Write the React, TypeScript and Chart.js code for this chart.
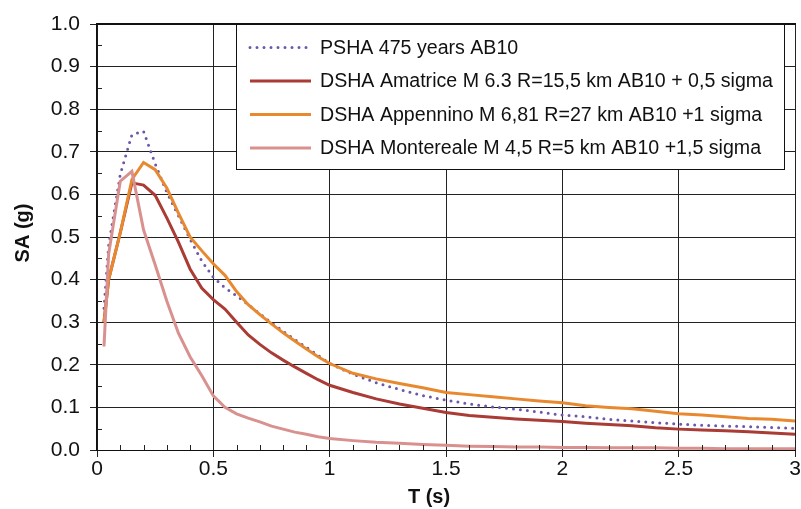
import React, { useEffect, useRef } from "react";
import { Chart, registerables } from "chart.js";

Chart.register(...registerables);

// ---- data ----
const periods = [
  0.03, 0.05, 0.1, 0.15, 0.2, 0.25, 0.3, 0.35, 0.4, 0.45, 0.5, 0.55, 0.6, 0.65, 0.7, 0.75, 0.8, 0.85, 0.9, 0.95, 1.0,
  1.1, 1.2, 1.3, 1.4, 1.5, 1.6, 1.7, 1.8, 1.9, 2.0, 2.1, 2.2, 2.3, 2.4, 2.5, 2.6, 2.7, 2.8, 2.9, 3.0,
];

const psha475 = [
  0.333, 0.48, 0.647, 0.74, 0.748, 0.672, 0.605, 0.55, 0.495, 0.444, 0.405, 0.381, 0.362, 0.341, 0.32, 0.298, 0.279,
  0.259, 0.241, 0.222, 0.203, 0.178, 0.158, 0.142, 0.128, 0.117, 0.108, 0.101, 0.096, 0.089, 0.082, 0.078, 0.072,
  0.068, 0.064, 0.061, 0.058, 0.056, 0.055, 0.053, 0.051,
];

const amatrice = [
  0.3, 0.4, 0.51, 0.627, 0.622, 0.598, 0.545, 0.488, 0.425, 0.38, 0.353, 0.331, 0.3, 0.27, 0.248, 0.228, 0.211,
  0.195, 0.18, 0.165, 0.152, 0.135, 0.12, 0.108, 0.098, 0.088, 0.081, 0.077, 0.073, 0.07, 0.067, 0.063, 0.06, 0.057,
  0.052, 0.049, 0.047, 0.045, 0.043, 0.04, 0.037,
];

const appennino = [
  0.3, 0.4, 0.51, 0.635, 0.675, 0.658, 0.615, 0.556, 0.5, 0.468, 0.437, 0.41, 0.372, 0.341, 0.318, 0.296, 0.275,
  0.256, 0.237, 0.219, 0.203, 0.18, 0.167, 0.156, 0.146, 0.135, 0.13, 0.125, 0.12, 0.115, 0.111, 0.104, 0.1, 0.097,
  0.091, 0.085, 0.082, 0.078, 0.074, 0.072, 0.068,
];

const montereale = [
  0.243, 0.46, 0.631, 0.654, 0.517, 0.435, 0.35, 0.274, 0.219, 0.175, 0.127, 0.1, 0.085, 0.075, 0.066, 0.056, 0.049,
  0.042, 0.037, 0.031, 0.027, 0.022, 0.018, 0.016, 0.013, 0.011, 0.009, 0.008, 0.007, 0.007, 0.006, 0.006, 0.005,
  0.005, 0.005, 0.004, 0.004, 0.003, 0.003, 0.003, 0.003,
];

const seriesLabels = [
  "PSHA 475 years AB10",
  "DSHA Amatrice M 6.3 R=15,5 km AB10 + 0,5 sigma",
  "DSHA Appennino M 6,81 R=27 km AB10 +1 sigma",
  "DSHA Montereale M 4,5 R=5 km AB10 +1,5 sigma",
];

const xAxisTitle = "T (s)";
const yAxisTitle = "SA (g)";

const FONT = "'Liberation Sans', Arial, sans-serif";

const toPoints = (ys: number[]) => periods.map((x, i) => ({ x, y: ys[i] }));

const decorPlugin = {
  id: "decor",
  afterDraw(chart: any) {
    const { ctx, chartArea, scales } = chart;
    const xs = scales.x;
    const ys = scales.y;
    ctx.save();
    // minor ticks (inside)
    ctx.strokeStyle = "#222";
    ctx.lineWidth = 1;
    ctx.beginPath();
    for (let i = 1; i < 20; i += 2) {
      const y = Math.round(ys.getPixelForValue(i * 0.05)) + 0.5;
      ctx.moveTo(chartArea.left, y);
      ctx.lineTo(chartArea.left + 5, y);
    }
    for (let i = 1; i < 30; i++) {
      if (i % 5 === 0) continue;
      const x = Math.round(xs.getPixelForValue(i * 0.1)) + 0.5;
      ctx.moveTo(x, chartArea.bottom);
      ctx.lineTo(x, chartArea.bottom - 5);
    }
    ctx.stroke();
    // top border thicker
    ctx.strokeStyle = "#111";
    ctx.lineWidth = 2;
    ctx.beginPath();
    ctx.moveTo(chartArea.left, chartArea.top);
    ctx.lineTo(chartArea.right + 1, chartArea.top);
    ctx.stroke();

    // legend box
    const bx = 236, by = chartArea.top, bw = 548, bh = 145;
    ctx.fillStyle = "#fff";
    ctx.fillRect(bx, by, bw, bh);
    ctx.strokeStyle = "#111";
    ctx.lineWidth = 1;
    ctx.strokeRect(bx + 0.5, by + 0.5, bw, bh);
    const rows = [47.5, 81, 114.5, 148];
    chart.data.datasets.forEach((ds: any, i: number) => {
      const y = rows[i];
      ctx.save();
      ctx.strokeStyle = ds.borderColor;
      ctx.lineWidth = ds.borderWidth;
      ctx.lineCap = ds.borderCapStyle || "butt";
      ctx.setLineDash(ds.borderDash || []);
      ctx.beginPath();
      ctx.moveTo(250, y);
      ctx.lineTo(311, y);
      ctx.stroke();
      ctx.restore();
      ctx.fillStyle = "#111";
      ctx.font = `19.6px ${FONT}`;
      ctx.textBaseline = "middle";
      ctx.textAlign = "left";
      ctx.fillText(ds.label, 320, y + 1);
    });

    // axis titles
    ctx.fillStyle = "#111";
    ctx.font = `bold 20px ${FONT}`;
    ctx.textAlign = "center";
    ctx.textBaseline = "middle";
    ctx.fillText(xAxisTitle, 429, 497);
    ctx.save();
    ctx.translate(23, 233);
    ctx.rotate(-Math.PI / 2);
    ctx.fillText(yAxisTitle, 0, 0);
    ctx.restore();
    ctx.restore();
  },
};

export default function App() {
  const ref = useRef<HTMLCanvasElement | null>(null);
  useEffect(() => {
    if (!ref.current) return;
    const chart = new Chart(ref.current, {
      type: "line",
      data: {
        datasets: [
          {
            label: seriesLabels[0],
            data: toPoints(psha475),
            borderColor: "#6C58A8",
            borderWidth: 3,
            borderDash: [0, 7],
            borderCapStyle: "round",
            pointRadius: 0,
            tension: 0,
            order: 4,
          },
          {
            label: seriesLabels[1],
            data: toPoints(amatrice),
            borderColor: "#AA3B35",
            borderWidth: 3,
            pointRadius: 0,
            tension: 0,
            order: 3,
          },
          {
            label: seriesLabels[2],
            data: toPoints(appennino),
            borderColor: "#E8892F",
            borderWidth: 3,
            pointRadius: 0,
            tension: 0,
            order: 2,
          },
          {
            label: seriesLabels[3],
            data: toPoints(montereale),
            borderColor: "#D9918F",
            borderWidth: 3,
            pointRadius: 0,
            tension: 0,
            order: 1,
          },
        ] as any,
      },
      options: {
        animation: false,
        responsive: false,
        devicePixelRatio: 1,
        layout: { padding: { top: 24, right: 6, left: 0, bottom: 0 } },
        plugins: { legend: { display: false }, tooltip: { enabled: false } },
        scales: {
          x: {
            type: "linear",
            min: 0,
            max: 3,
            afterFit: (s: any) => {
              s.height = 59;
            },
            ticks: {
              stepSize: 0.5,
              padding: 0,
              maxRotation: 0,
              color: "#111",
              font: { family: FONT, size: 21 },
              callback: (v: any) => String(Number(v)),
            },
            grid: { color: "#222", lineWidth: 1, tickLength: 7, drawOnChartArea: true },
            border: { display: true, color: "#111", width: 1 },
          },
          y: {
            type: "linear",
            min: 0,
            max: 1,
            afterFit: (s: any) => {
              s.width = 97;
            },
            ticks: {
              stepSize: 0.1,
              padding: 10,
              color: "#111",
              font: { family: FONT, size: 21 },
              callback: (v: any) => Number(v).toFixed(1),
            },
            grid: { color: "#222", lineWidth: 1, tickLength: 7 },
            border: { display: true, color: "#111", width: 1.5 },
          },
        },
      },
      plugins: [decorPlugin],
    } as any);
    return () => chart.destroy();
  }, []);
  return (
    <div style={{ position: "absolute", left: 0, top: 0, width: 801, height: 509, background: "#fff" }}>
      <canvas ref={ref} width={801} height={509} style={{ display: "block" }} />
    </div>
  );
}
